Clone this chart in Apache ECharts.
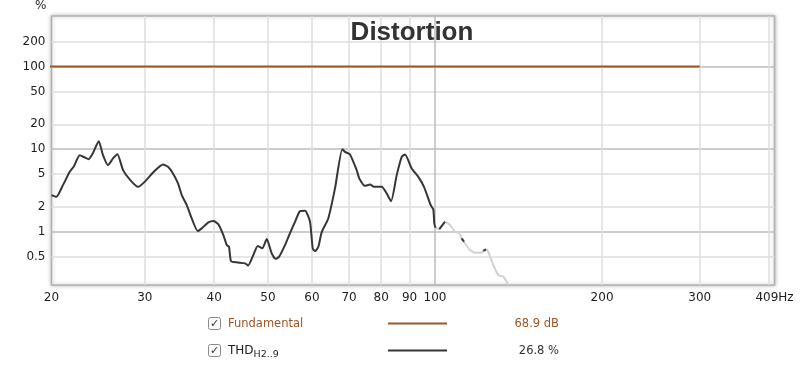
<!DOCTYPE html>
<html><head><meta charset="utf-8">
<script src="https://cdn.jsdelivr.net/npm/echarts@6/dist/echarts.min.js"></script>
<style>html,body{margin:0;padding:0;background:#fff}#c{width:800px;height:367px}</style>
</head><body><div id="c"></div>
<script>
// ---- data ----
const xTickLabels = [20, 30, 40, 50, 60, 70, 80, 90, 100, 200, 300, 409];
const xGridValues = [30, 40, 50, 60, 70, 80, 90, 100, 200, 300, 400];
const yTickLabels = [0.5, 1, 2, 5, 10, 20, 50, 100, 200];

const fundFreq = [20, 300];
const fundPct = [100, 100];

const thdFreq = [20.37,20.78,21.36,21.97,22.36,22.90,23.38,23.77,24.20,24.78,25.22,25.75,26.29,26.77,27.41,28.18,29.17,29.98,31.26,32.35,33.03,33.72,34.43,34.97,35.70,36.45,37.37,37.99,39.05,39.87,40.71,41.56,42.15,42.54,42.90,43.93,45.47,46.04,47.06,47.93,48.85,49.75,50.79,51.60,52.35,53.67,54.80,55.95,57.12,58.32,59.54,60.21,60.79,61.63,62.50,64.22,66.04,68.08,68.84,70.28,72.26,73.05,74.81,76.37,77.64,80.15,81.77,83.32,85.31,87.10,88.29,90.79,93.31,95.54,98.24,99.30,99.71,100.2];
const thdPct = [2.78,2.65,3.67,5.32,6.23,8.46,7.94,7.57,9.02,12.5,8.46,6.41,7.72,8.70,5.57,4.30,3.50,4.02,5.47,6.53,6.11,5.08,3.85,2.78,2.10,1.45,1.02,1.10,1.30,1.35,1.23,0.912,0.691,0.659,0.442,0.427,0.415,0.390,0.523,0.672,0.630,0.816,0.548,0.472,0.498,0.691,0.964,1.32,1.78,1.80,1.32,0.630,0.584,0.659,0.992,1.45,3.35,10.0,9.28,8.63,5.57,4.42,3.60,3.74,3.50,3.50,2.94,2.35,4.85,8.07,8.63,5.84,4.62,3.50,2.10,1.86,1.26,1.12];

const floorFreq = [100.2,101.8,104.2,106.4,108.7,110.6,111.7,112.8,115.6,118.1,121.4,122.2,123.6,124.7,127.4,130.0,132.8,135.6];
const floorPct = [1.12,1.08,1.32,1.21,1.00,0.956,0.832,0.757,0.601,0.557,0.557,0.589,0.613,0.573,0.396,0.300,0.286,0.227];
const floorDarkRanges = [[101.8, 104.2], [111.7, 112.8], [122.2, 123.6]];

const legendNames = ['Fundamental', 'THD', 'H2..9'];
const legendValues = ['68.9 dB', '26.8 %'];

// ---- setup ----
const X_MIN = 20.37, X_MAX = 409, Y_MIN = 0.227, Y_MAX = 409;
const L = Math.log10;
const BROWN = '#9c5626', DARK = '#363636', FLOOR = '#d2d2d2';
const GRID_LIGHT = '#dedede', GRID_DARK = '#bdbdbd';
const FONT = 'DejaVu Sans';

const pairs = (fs, vs) => fs.map((f, i) => [L(f), L(vs[i])]);
const nearest = (arr, v) => arr.reduce((b, a) => Math.abs(L(a) - v) < Math.abs(L(b) - v) ? a : b);

const darkFloor = [];
floorDarkRanges.forEach((r, k) => {
  if (k > 0) darkFloor.push([L(r[0]), '-']);
  floorFreq.forEach((f, i) => { if (f >= r[0] && f <= r[1]) darkFloor.push([L(f), L(floorPct[i])]); });
});

const xLabelVals = xTickLabels.map(v => Math.min(Math.max(L(v), L(X_MIN)), L(X_MAX)));
const isDecade = v => Math.abs(L(v) - Math.round(L(v))) < 1e-9;

const chart = echarts.init(document.getElementById('c'), null, {renderer: 'canvas'});
chart.setOption({
  animation: false,
  backgroundColor: '#fff',
  title: {
    text: 'Distortion', left: 412, top: 20, textAlign: 'center', padding: 0,
    textStyle: {fontFamily: 'Liberation Sans', fontWeight: 'bold', fontSize: 26, color: '#333'}
  },
  grid: {
    left: 51.5, right: 25.5, top: 15.7, bottom: 82,
    show: true, backgroundColor: '#fff', borderColor: '#b0b0b0', borderWidth: 1.5,
    shadowBlur: 4, shadowColor: 'rgba(0,0,0,0.25)', shadowOffsetX: 0, shadowOffsetY: 0
  },
  xAxis: {
    type: 'value', min: L(X_MIN), max: L(X_MAX),
    axisLine: {show: false},
    axisTick: {show: false, customValues: xGridValues.map(L)},
    axisLabel: {
      customValues: xLabelVals, margin: 7, color: '#1e1e1e', fontSize: 12, fontFamily: FONT,
      formatter: v => { const t = nearest(xTickLabels, v); return t === xTickLabels[xTickLabels.length - 1] ? t + 'Hz' : String(t); }
    },
    splitLine: {show: true, lineStyle: {width: 1.5, color: xGridValues.map(v => isDecade(v) ? GRID_DARK : GRID_LIGHT)}}
  },
  yAxis: {
    type: 'value', min: L(Y_MIN), max: L(Y_MAX),
    name: '%', nameLocation: 'end', nameGap: 4,
    nameTextStyle: {align: 'right', padding: [0, 5, 0, 0], color: '#1e1e1e', fontSize: 12, fontFamily: FONT},
    axisLine: {show: false},
    axisTick: {show: false, customValues: yTickLabels.map(L)},
    axisLabel: {
      customValues: yTickLabels.map(L), margin: 6, color: '#1e1e1e', fontSize: 12, fontFamily: FONT,
      formatter: v => String(nearest(yTickLabels, v))
    },
    splitLine: {show: true, lineStyle: {width: 1.5, color: yTickLabels.map(v => isDecade(v) ? GRID_DARK : GRID_LIGHT)}}
  },
  series: [
    {type: 'line', name: 'Fundamental', data: pairs(fundFreq, fundPct), showSymbol: false, symbol: 'none',
     lineStyle: {color: BROWN, width: 2}, z: 3},
    {type: 'line', name: 'THD floor', data: pairs(floorFreq, floorPct), showSymbol: false, symbol: 'none',
     smooth: 0.2, lineStyle: {color: FLOOR, width: 2}, z: 2},
    {type: 'line', name: 'THD floor dark', data: darkFloor, showSymbol: false, symbol: 'none', connectNulls: false,
     smooth: 0.2, lineStyle: {color: DARK, width: 2}, z: 3},
    {type: 'line', name: 'THD', data: pairs(thdFreq, thdPct), showSymbol: false, symbol: 'none',
     smooth: 0.2, lineStyle: {color: DARK, width: 2}, z: 4}
  ],
  graphic: [
    {type: 'rect', shape: {x: 208.5, y: 317.5, width: 12, height: 12, r: 2}, style: {fill: '#fafafa', stroke: '#8a8a8a', lineWidth: 1}},
    {type: 'text', x: 214.5, y: 324, style: {text: '✓', fill: '#333', fontSize: 11, fontFamily: FONT, align: 'center', verticalAlign: 'middle'}},
    {type: 'text', x: 228, y: 324, style: {text: legendNames[0], fill: BROWN, fontSize: 11.5, fontFamily: FONT, verticalAlign: 'middle'}},
    {type: 'line', shape: {x1: 388, y1: 323.5, x2: 447, y2: 323.5}, style: {stroke: BROWN, lineWidth: 2}},
    {type: 'text', x: 559, y: 324, style: {text: legendValues[0], fill: BROWN, fontSize: 11.5, fontFamily: FONT, align: 'right', verticalAlign: 'middle'}},

    {type: 'rect', shape: {x: 208.5, y: 344.5, width: 12, height: 12, r: 2}, style: {fill: '#fafafa', stroke: '#8a8a8a', lineWidth: 1}},
    {type: 'text', x: 214.5, y: 351, style: {text: '✓', fill: '#333', fontSize: 11, fontFamily: FONT, align: 'center', verticalAlign: 'middle'}},
    {type: 'text', x: 228, y: 351, style: {
      text: '{m|' + legendNames[1] + '}{s|' + legendNames[2] + '}', fill: '#222', fontFamily: FONT, verticalAlign: 'middle',
      rich: {m: {fontSize: 12, lineHeight: 18, fontFamily: FONT, fill: '#222', verticalAlign: 'middle'},
             s: {fontSize: 9.5, lineHeight: 18, fontFamily: FONT, fill: '#222', verticalAlign: 'bottom'}}
    }},
    {type: 'line', shape: {x1: 388, y1: 350.5, x2: 447, y2: 350.5}, style: {stroke: DARK, lineWidth: 2}},
    {type: 'text', x: 559, y: 351, style: {text: legendValues[1], fill: '#333', fontSize: 11.5, fontFamily: FONT, align: 'right', verticalAlign: 'middle'}}
  ]
});
</script></body></html>
